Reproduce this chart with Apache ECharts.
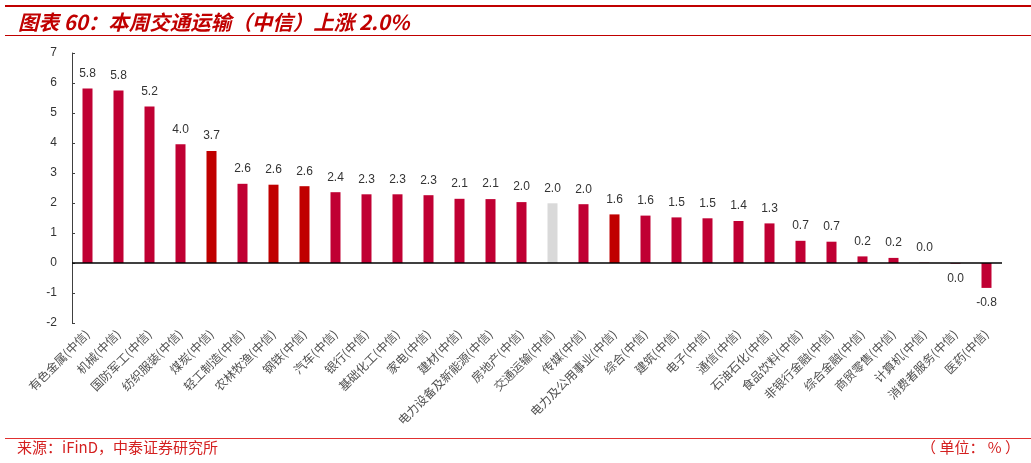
<!DOCTYPE html>
<html>
<head>
<meta charset="utf-8">
<script src="https://cdn.jsdelivr.net/npm/echarts@6/dist/echarts.min.js"></script>
<style>
  html, body { margin: 0; padding: 0; background: #fff; }
  #chart { width: 1031px; height: 463px; }
</style>
</head>
<body>
<div id="chart"></div>
<script>
// 行业名称（中信一级）
const categories = [
  '有色金属(中信)', '机械(中信)', '国防军工(中信)', '纺织服装(中信)', '煤炭(中信)',
  '轻工制造(中信)', '农林牧渔(中信)', '钢铁(中信)', '汽车(中信)', '银行(中信)',
  '基础化工(中信)', '家电(中信)', '建材(中信)', '电力设备及新能源(中信)', '房地产(中信)',
  '交通运输(中信)', '传媒(中信)', '电力及公用事业(中信)', '综合(中信)', '建筑(中信)',
  '电子(中信)', '通信(中信)', '石油石化(中信)', '食品饮料(中信)', '非银行金融(中信)',
  '综合金融(中信)', '商贸零售(中信)', '计算机(中信)', '消费者服务(中信)', '医药(中信)'
]
// 本周涨跌幅 %
const values = [
  5.82, 5.75, 5.22, 3.96, 3.73,
  2.64, 2.61, 2.56, 2.36, 2.29,
  2.29, 2.26, 2.14, 2.13, 2.03,
  1.99, 1.96, 1.62, 1.58, 1.52,
  1.49, 1.40, 1.32, 0.74, 0.71,
  0.22, 0.17, 0.01, -0.02, -0.83
]
// 颜色分组：0 普通, 1 深红, 2 灰（本行业）
const colorGroup = [
  0, 0, 0, 0, 1,
  0, 1, 1, 0, 0,
  0, 0, 0, 0, 0,
  2, 0, 1, 0, 0,
  0, 0, 0, 0, 0,
  0, 0, 0, 0, 0
]
const yTicks = { min: -2, max: 7, interval: 1 }

const palette = ['#C00033', '#C00000', '#D9D9D9']
const red = '#C00000'

const chart = echarts.init(document.getElementById('chart'))

const seriesData = values.map((v, i) => ({
  value: v,
  itemStyle: { color: palette[colorGroup[i]] },
  label: { position: v < 0 ? 'bottom' : 'top' }
}))

const option = {
  animation: false,
  grid: { left: 72, right: 29, top: 53, bottom: 140, containLabel: false },
  xAxis: {
    type: 'category',
    data: categories,
    axisLine: { show: false, onZero: false },
    axisTick: { show: false },
    axisLabel: {
      interval: 0,
      rotate: 45,
      margin: 9,
      fontSize: 12,
      color: '#505050',
      fontFamily: 'Noto Sans CJK SC'
    }
  },
  yAxis: {
    type: 'value',
    min: yTicks.min,
    max: yTicks.max,
    interval: yTicks.interval,
    splitLine: { show: false },
    axisLine: { show: true, lineStyle: { color: '#404040', width: 1 } },
    axisTick: { show: true, inside: true, length: 3, lineStyle: { color: '#404040' } },
    axisLabel: { margin: 15, fontSize: 12, color: '#333', fontFamily: 'Arial' }
  },
  series: [
    {
      type: 'bar',
      barWidth: 10,
      data: seriesData,
      label: {
        show: true,
        distance: 9,
        fontSize: 12,
        color: '#333',
        fontFamily: 'Arial',
        formatter: p => (Math.abs(p.value) < 0.05 ? '0.0' : p.value.toFixed(1))
      },
      markLine: {
        silent: true,
        symbol: 'none',
        label: { show: false },
        lineStyle: { color: '#000', width: 1.5, type: 'solid' },
        data: [{ yAxis: 0 }]
      }
    }
  ],
  graphic: [
    { type: 'rect', left: 5, top: 5, shape: { width: 1026, height: 2 }, style: { fill: red } },
    {
      type: 'text', left: 18, top: 12,
      style: {
        text: '图表 60：本周交通运输（中信）上涨 2.0%',
        font: 'italic bold 20.5px "Noto Sans CJK SC"',
        fill: red
      }
    },
    { type: 'rect', left: 5, top: 35, shape: { width: 1026, height: 1 }, style: { fill: red } },
    { type: 'rect', left: 5, top: 438, shape: { width: 1026, height: 1 }, style: { fill: '#E03030' } },
    {
      type: 'text', left: 17, top: 440,
      style: { text: '来源：iFinD，中泰证券研究所', font: '15px "Noto Sans CJK SC"', fill: '#D42020' }
    },
    {
      type: 'text', right: 11, top: 440,
      style: { text: '（ 单位： % ）', font: '15px "Noto Sans CJK SC"', fill: '#D42020' }
    }
  ]
}

chart.setOption(option)
</script>
</body>
</html>
